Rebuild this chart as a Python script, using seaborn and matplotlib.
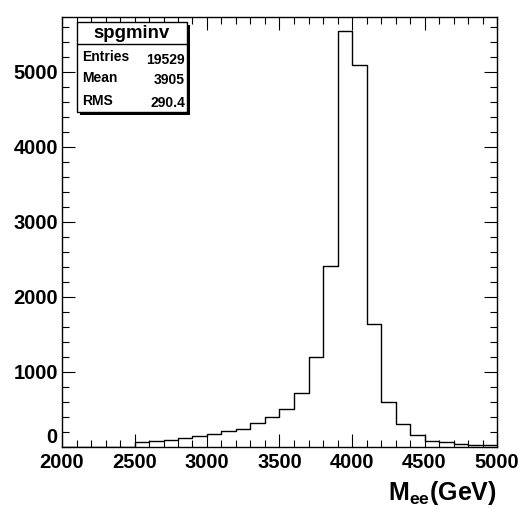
import numpy as np
import pandas as pd
import matplotlib
matplotlib.use("Agg")
import matplotlib.pyplot as plt
import seaborn as sns
from matplotlib.patches import Rectangle
from matplotlib.ticker import MultipleLocator

# bin lower edges (GeV) and counts
bin_low = [2000, 2100, 2200, 2300, 2400, 2500, 2600, 2700, 2800, 2900,
           3000, 3100, 3200, 3300, 3400, 3500, 3600, 3700, 3800, 3900,
           4000, 4100, 4200, 4300, 4400, 4500, 4600, 4700, 4800, 4900]
counts = [0, 0, 0, 0, 0, 70, 80, 93, 124, 147,
          178, 209, 244, 320, 404, 507, 716, 1204, 2413, 5540,
          5090, 1644, 600, 307, 160, 84, 62, 36, 27, 27]
stats_labels = ["Entries", "Mean", "RMS"]
stats_values = ["19529", "3905", "290.4"]
hist_name = "spgminv"

bin_width = 100
edges = list(bin_low) + [bin_low[-1] + bin_width]
df = pd.DataFrame({"mee": [b + bin_width / 2 for b in bin_low], "w": counts})

sns.set_style("ticks")
plt.rcParams["font.family"] = ["Liberation Sans", "DejaVu Sans"]
plt.rcParams["font.weight"] = "bold"
plt.rcParams["text.color"] = "black"
plt.rcParams["xtick.color"] = "black"
plt.rcParams["ytick.color"] = "black"
plt.rcParams["mathtext.fontset"] = "custom"
plt.rcParams["mathtext.bf"] = "Liberation Sans:bold"
plt.rcParams["mathtext.rm"] = "Liberation Sans:bold"

W, H = 524, 518
fig = plt.figure(figsize=(W / 100, H / 100), dpi=100)
L, R, T, B = 62, 497, 17, 447
ax = fig.add_axes([L / W, 1 - B / H, (R - L) / W, (B - T) / H])

sns.histplot(data=df, x="mee", weights="w", bins=edges, element="step",
             fill=False, color="black", linewidth=1.0, ax=ax)

ax.set_xlim(2000, 5000)
ax.set_ylim(0, 5733)
ax.set_xlabel("")
ax.set_ylabel("")
ax.xaxis.set_major_locator(MultipleLocator(500))
ax.xaxis.set_minor_locator(MultipleLocator(100))
ax.yaxis.set_major_locator(MultipleLocator(1000))
ax.yaxis.set_minor_locator(MultipleLocator(200))
ax.tick_params(which="both", direction="in", top=True, right=True, width=0.8,
               colors="black", labelcolor="black")
ax.tick_params(which="major", length=9.4)
ax.tick_params(which="minor", length=4.7)
ax.tick_params(axis="x", which="major", pad=4, labelsize=14.5)
ax.tick_params(axis="y", which="major", pad=3, labelsize=14.5)
for s in ax.spines.values():
    s.set_visible(True)
    s.set_linewidth(1.0)
    s.set_color("black")

# x-axis title
fig.text(497 / W, 1 - 500 / H, r"M$_{\mathbf{ee}}$(GeV)", ha="right", va="baseline",
         fontsize=18, fontweight="bold", color="black")

# stats box
bx0, bx1, by0, by1 = 77, 187, 22, 112
def fx(x): return x / W
def fy(y): return 1 - y / H
shadow = Rectangle((fx(bx0 + 3), fy(by1 + 3)), fx(bx1 - bx0), (by1 - by0) / H,
                   transform=fig.transFigure, facecolor="black", edgecolor="none", zorder=5)
box = Rectangle((fx(bx0), fy(by1)), fx(bx1 - bx0), (by1 - by0) / H,
                transform=fig.transFigure, facecolor="white", edgecolor="black",
                linewidth=1.0, zorder=6)
fig.add_artist(shadow)
fig.add_artist(box)
fig.add_artist(plt.Line2D([fx(bx0), fx(bx1)], [fy(44), fy(44)], transform=fig.transFigure,
                          color="black", linewidth=1.0, zorder=7))
fig.text(fx((bx0 + bx1) / 2), fy(33), hist_name, ha="center", va="center",
         fontsize=13.4, fontweight="bold", color="black", zorder=8)
label_y = [57, 78, 101]
value_y = [60, 80, 103]
for lab, val, ly, vy in zip(stats_labels, stats_values, label_y, value_y):
    fig.text(fx(82), fy(ly), lab, ha="left", va="center", fontsize=10,
             fontweight="bold", color="black", zorder=8)
    fig.text(fx(185), fy(vy), val, ha="right", va="center", fontsize=10,
             fontweight="bold", color="black", zorder=8)

fig.canvas.draw()
for lab in ax.get_xticklabels() + ax.get_yticklabels():
    lab.set_fontweight("bold")
for tick in ax.yaxis.get_major_ticks():
    if tick.label1.get_text() == "0":
        tick.label1.set_verticalalignment("bottom")

fig.savefig("out.png", dpi=100, facecolor="white")
